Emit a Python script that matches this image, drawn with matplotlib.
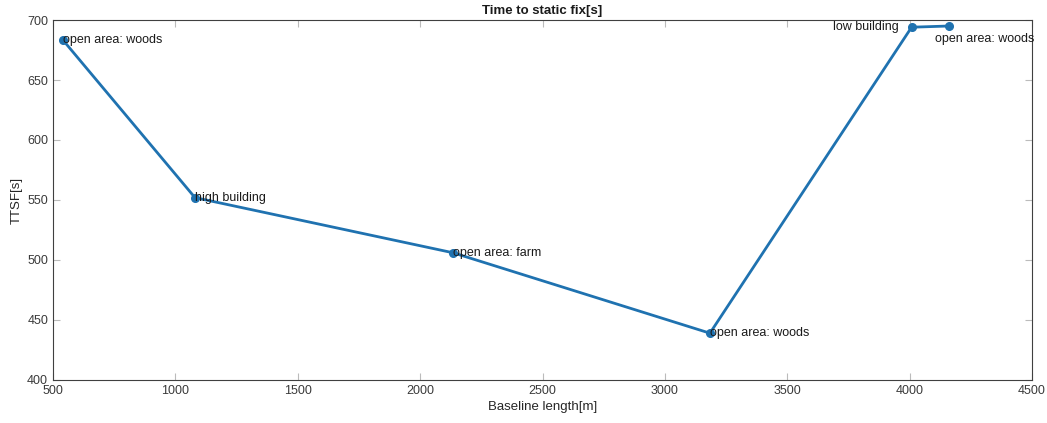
import matplotlib
matplotlib.use("Agg")
import matplotlib.pyplot as plt

plt.rcParams['font.family'] = ['Liberation Sans', 'DejaVu Sans']

baseline_m = [542, 1080, 2135, 3184, 4008, 4160]
ttsf_s = [683, 552, 506, 439, 694, 695]
site_labels = ["open area: woods", "high building", "open area: farm",
               "open area: woods", "low building", "open area: woods"]

x_ticks = [500, 1000, 1500, 2000, 2500, 3000, 3500, 4000, 4500]
y_ticks = [400, 450, 500, 550, 600, 650, 700]

fig = plt.figure(figsize=(10.47, 4.23), dpi=100)
ax = fig.add_axes([0.0506, 0.1017, 0.9351, 0.851])

line_color = "#1f72b0"
ax.plot(baseline_m, ttsf_s, color=line_color, linewidth=2, marker="o",
        markersize=5.5, markerfacecolor=line_color, markeredgecolor=line_color)

# label placement: (offset in points, horizontal alignment, vertical alignment)
placements = [((0, 0), "left", "center"),
              ((0, 0), "left", "center"),
              ((0, 0), "left", "center"),
              ((0, 0), "left", "center"),
              ((-9, 0), "right", "center"),
              ((-10, -9), "left", "center")]
for x, y, lab, (off, ha, va) in zip(baseline_m, ttsf_s, site_labels, placements):
    ax.annotate(lab, (x, y), xytext=off, textcoords="offset points",
                ha=ha, va=va, fontsize=9, color="#1a1a1a")

ax.set_xlim(500, 4500)
ax.set_ylim(400, 700)
ax.set_xticks(x_ticks)
ax.set_yticks(y_ticks)
ax.tick_params(direction="in", length=5, color="#bbbbbb", labelcolor="#3a3a3a",
               labelsize=9, top=True, right=True)
for s in ax.spines.values():
    s.set_color("#404040")
    s.set_linewidth(0.8)

ax.set_title("Time to static fix[s]", fontsize=9.5, fontweight="bold", pad=4,
             color="#1a1a1a")
ax.set_xlabel("Baseline length[m]", fontsize=9.5, color="#262626", labelpad=3)
ax.set_ylabel("TTSF[s]", fontsize=9.5, color="#262626", labelpad=3)

fig.savefig("out.png", dpi=100)
